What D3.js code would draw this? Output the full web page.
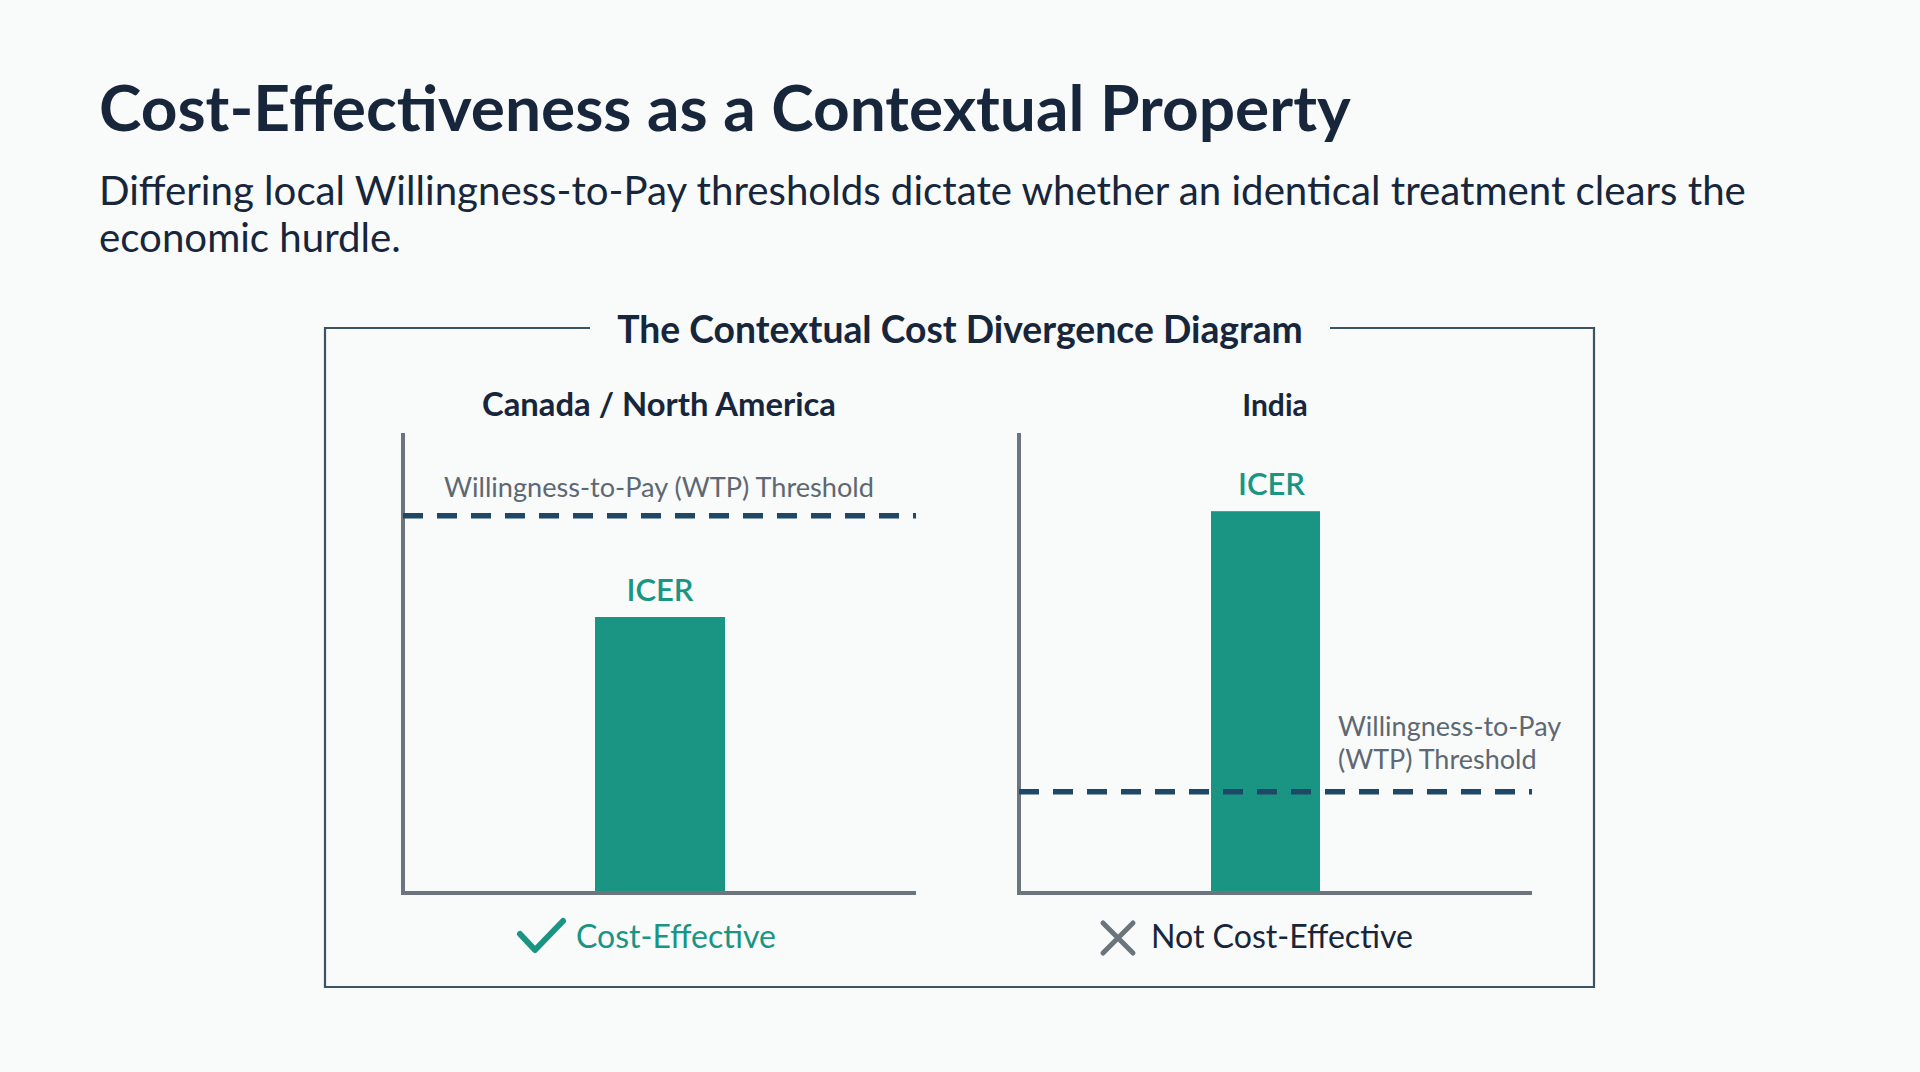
<!DOCTYPE html>
<html>
<head>
<meta charset="utf-8">
<script src="https://cdn.jsdelivr.net/npm/d3@7"></script>
<style>
  html, body { margin: 0; padding: 0; background: #f9fafa; }
  svg { display: block; }
</style>
</head>
<body>
<svg id="chart" width="1920" height="1072"></svg>
<script>
// ---- Data ----
const title = "Cost-Effectiveness as a Contextual Property";
const subtitleLines = [
  "Differing local Willingness-to-Pay thresholds dictate whether an identical treatment clears the",
  "economic hurdle."
];
const diagramTitle = "The Contextual Cost Divergence Diagram";
const regions = ["Canada / North America", "India"];
const icerValues = [60, 83];        // ICER bar height (relative units)
const wtpValues = [82, 22];         // WTP threshold (relative units)
const barLabel = "ICER";
const wtpLabels = [["Willingness-to-Pay (WTP) Threshold"], ["Willingness-to-Pay", "(WTP) Threshold"]];
const verdicts = ["Cost-Effective", "Not Cost-Effective"];
const verdictPass = [true, false];

// ---- Style ----
const C = {
  ink: "#17263a",
  frame: "#3c5364",
  axis: "#6c757d",
  teal: "#1a9583",
  dash: "#1e4866",
  gray: "#5d6872",
  mark: "#6c757d"
};
const FONT = "Lato, 'Open Sans', sans-serif";

const svg = d3.select("#chart");
svg.append("rect").attr("width", 1920).attr("height", 1072).attr("fill", "#f9fafa");

function fit(sel, target) {
  const node = sel.node();
  const fs = parseFloat(sel.attr("font-size"));
  const w = node.getComputedTextLength();
  if (w > 0) sel.attr("font-size", (fs * target / w).toFixed(2));
  return sel;
}

// Title
fit(svg.append("text").attr("x", 99).attr("y", 131)
  .attr("font-family", FONT).attr("font-weight", 700).attr("font-size", 62)
  .attr("fill", C.ink).text(title), 1252);

// Subtitle
const subY = [205, 252];
const sub1 = svg.append("text").attr("x", 99).attr("y", subY[0])
  .attr("font-family", FONT).attr("font-weight", 400).attr("font-size", 37)
  .attr("fill", C.ink).text(subtitleLines[0]);
fit(sub1, 1647);
svg.append("text").attr("x", 99).attr("y", subY[1])
  .attr("font-family", FONT).attr("font-weight", 400).attr("font-size", sub1.attr("font-size"))
  .attr("fill", C.ink).text(subtitleLines[1]);

// Frame
const frame = { x0: 325, x1: 1594, y0: 328, y1: 987 };
svg.append("path").attr("d",
  `M${590},${frame.y0} H${frame.x0} V${frame.y1} H${frame.x1} V${frame.y0} H${1330}`)
  .attr("fill", "none").attr("stroke", C.frame).attr("stroke-width", 2.2);
fit(svg.append("text").attr("x", 960).attr("y", 343).attr("text-anchor", "middle")
  .attr("font-family", FONT).attr("font-weight", 700).attr("font-size", 34)
  .attr("fill", C.ink).text(diagramTitle), 686);

// Panels
const panels = [
  { x0: 403, x1: 916, barW: 130, barCx: 660, headCx: 659, headW: 354, labelX: 444, labelY: [497], labelW: 430 },
  { x0: 1019, x1: 1532, barW: 109, barCx: 1265.5, headCx: 1275, headW: null, labelX: 1338, labelY: [736, 769], labelW: null }
];
const y = d3.scaleLinear().domain([0, 100]).range([893, 433]);

regions.forEach((name, i) => {
  const p = panels[i];
  const g = svg.append("g");

  // heading
  const h = g.append("text").attr("x", p.headCx).attr("y", 416).attr("text-anchor", "middle")
    .attr("font-family", FONT).attr("font-weight", 700).attr("font-size", 30)
    .attr("fill", C.ink).text(name);
  if (p.headW) fit(h, p.headW);

  // bar
  g.append("rect")
    .attr("x", p.barCx - p.barW / 2).attr("width", p.barW)
    .attr("y", y(icerValues[i])).attr("height", y(0) - y(icerValues[i]))
    .attr("fill", C.teal);

  // ICER label
  g.append("text").attr("x", p.barCx + (i === 1 ? 6 : 0)).attr("y", y(icerValues[i]) - 16)
    .attr("text-anchor", "middle")
    .attr("font-family", FONT).attr("font-weight", 600).attr("font-size", 31)
    .attr("fill", C.teal).text(barLabel);

  // axes
  g.append("path").attr("d", `M${p.x0},${y(100)} V${y(0)} H${p.x1}`)
    .attr("fill", "none").attr("stroke", C.axis).attr("stroke-width", 4);

  // WTP threshold
  g.append("line").attr("x1", p.x0).attr("x2", p.x1)
    .attr("y1", y(wtpValues[i])).attr("y2", y(wtpValues[i]))
    .attr("stroke", C.dash).attr("stroke-width", 5.5)
    .attr("stroke-dasharray", "20 14");

  wtpLabels[i].forEach((t, k) => {
    const l = g.append("text").attr("x", p.labelX).attr("y", p.labelY[k])
      .attr("font-family", FONT).attr("font-weight", 400).attr("font-size", 27)
      .attr("fill", C.gray).text(t);
    if (p.labelW) fit(l, p.labelW);
  });

  // verdict
  const vy = 948;
  if (verdictPass[i]) {
    g.append("path").attr("d", "M520,934 L535,950 L563,921")
      .attr("fill", "none").attr("stroke", C.teal).attr("stroke-width", 6)
      .attr("stroke-linecap", "round").attr("stroke-linejoin", "round");
    fit(g.append("text").attr("x", 576).attr("y", vy)
      .attr("font-family", FONT).attr("font-weight", 400).attr("font-size", 31)
      .attr("fill", C.teal).text(verdicts[i]), 200);
  } else {
    g.append("path").attr("d", "M1103,923 L1133,953 M1133,923 L1103,953")
      .attr("fill", "none").attr("stroke", C.mark).attr("stroke-width", 5)
      .attr("stroke-linecap", "round");
    fit(g.append("text").attr("x", 1151).attr("y", vy)
      .attr("font-family", FONT).attr("font-weight", 400).attr("font-size", 31)
      .attr("fill", C.ink).text(verdicts[i]), 262);
  }
});
</script>
</body>
</html>
